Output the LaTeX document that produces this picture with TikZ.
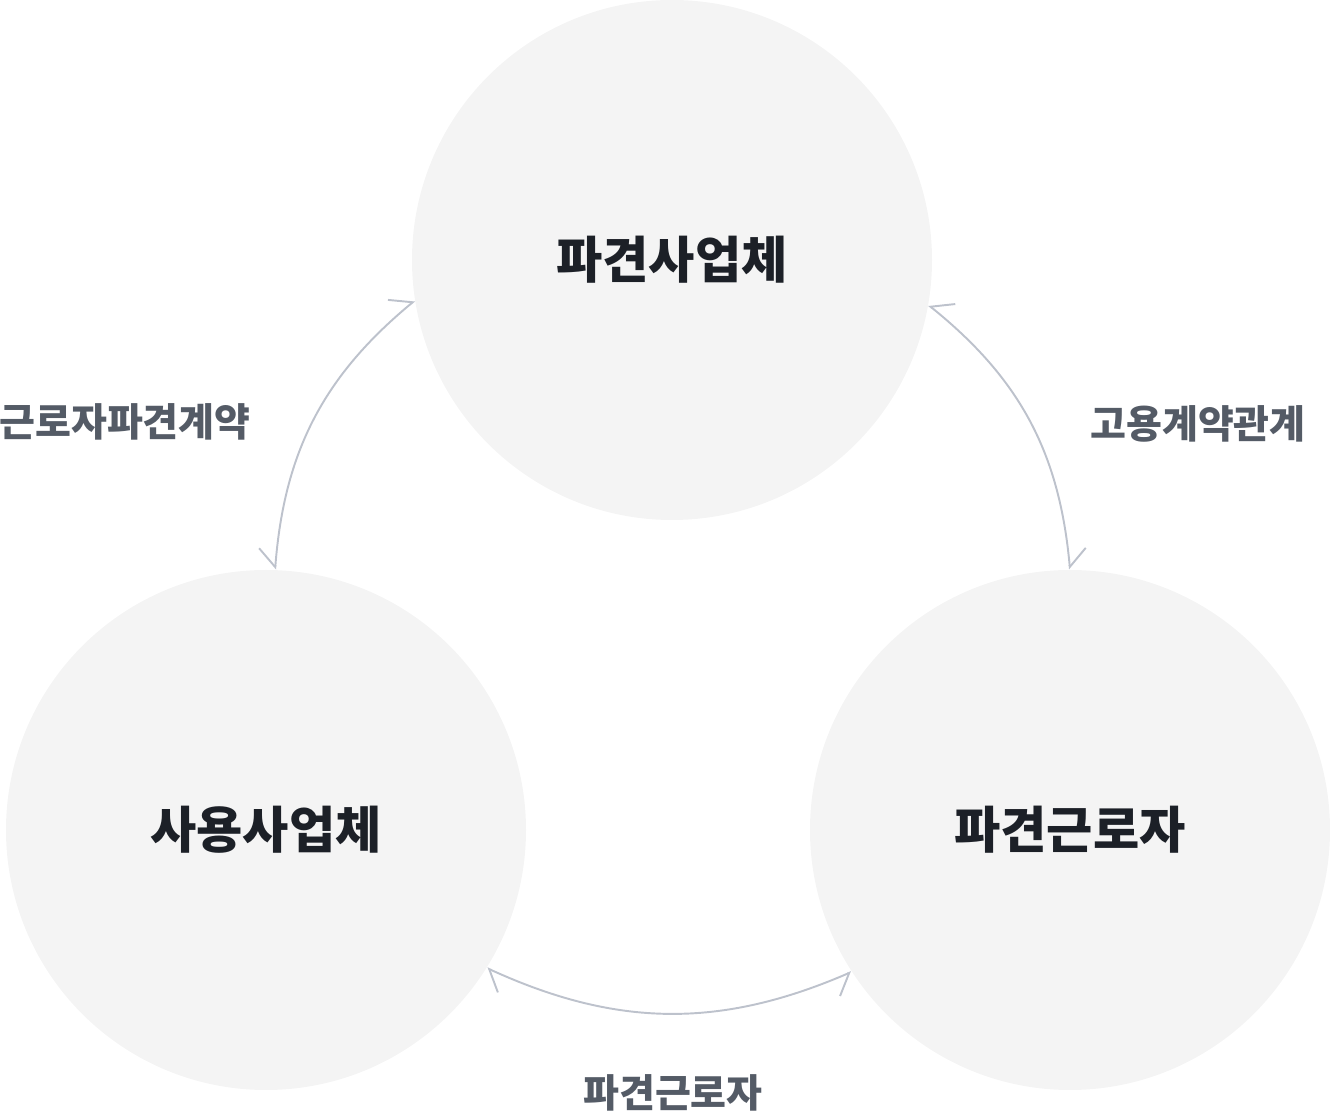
\documentclass[tikz,border=0pt]{standalone}
\usepackage{fontspec}
\setmainfont{Noto Sans CJK KR}
\usetikzlibrary{arrows.meta}
\definecolor{circlefill}{HTML}{F4F4F4}
\definecolor{maintext}{HTML}{1C2027}
\definecolor{reltext}{HTML}{545B66}
\definecolor{linkgray}{HTML}{BDC2CC}
\begin{document}
\begin{tikzpicture}[font=\bfseries]
\tikzstyle{party}=[circle, fill=circlefill, minimum size=5.2cm, inner sep=0pt, font=\fontsize{14.3}{17}\selectfont\bfseries, text=maintext]
\tikzstyle{rel}=[font=\fontsize{11.1}{13}\selectfont\bfseries, text=reltext]
\tikzstyle{link}=[draw=linkgray, line width=0.55pt, {Straight Barb[left, length=5pt, width=10pt]}-{Straight Barb[right, length=5pt, width=10pt]}]
\useasboundingbox (0,0) rectangle (13.3,11.14);
% the three parties
\node[party] (agency) at (6.72,8.54) {파견사업체};
\node[party] (client) at (2.66,2.84) {사용사업체};
\node[party] (worker) at (10.70,2.84) {파견근로자};
% relations
\draw[link] (agency.189.5) to[bend right=23] (client.88.7);
\draw[link] (worker.90.7) to[bend right=23] (agency.350.5);
\draw[link] (client.-32.8) to[bend right=24] (worker.213.4);
\node[rel] (contract) at (1.25,6.92) {근로자파견계약};
\node[rel] (employ) at (11.98,6.90) {고용계약관계};
\node[rel] (dispatch) at (6.73,0.21) {파견근로자};
\end{tikzpicture}
\end{document}
